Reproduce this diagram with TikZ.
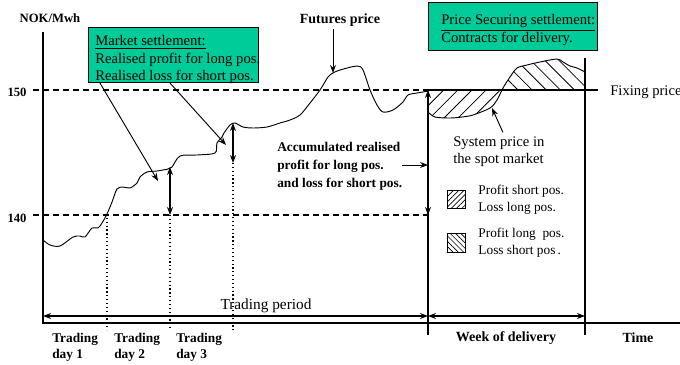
\documentclass[tikz,border=0pt]{standalone}
\usepackage{fontspec}
\setmainfont{Liberation Serif}
\usetikzlibrary{arrows.meta,patterns.meta,positioning}
\definecolor{settlegreen}{RGB}{0,204,153}
\tikzset{
  tip/.style={-{Stealth[length=6pt,width=4.5pt]}, line width=0.7pt},
  dbltip/.style={{Stealth[length=6pt,width=4.5pt]}-{Stealth[length=6pt,width=4.5pt]}, line width=0.9pt},
  level/.style={dashed, dash pattern=on 4.5pt off 3pt, line width=1.1pt},
  dayline/.style={dotted, line width=0.9pt},
  frame/.style={line width=1.1pt},
  settlebox/.style={draw, line width=0.8pt, fill=settlegreen, inner sep=0pt, anchor=north west},
  txt/.style={font=\fontsize{11}{13}\selectfont, align=left, inner sep=0pt},
  btxt/.style={font=\bfseries\fontsize{10}{12}\selectfont, align=left, inner sep=0pt},
  legbox/.style={draw, line width=0.6pt, minimum size=14pt, inner sep=0pt},
  legtxt/.style={font=\fontsize{10}{12.75}\selectfont, align=left, inner sep=0pt},
}

\begin{document}
\begin{tikzpicture}[x=0.75pt, y=-0.75pt]
\useasboundingbox (0,0) rectangle (680,364);

\coordinate (fut) at (333,73);
\coordinate (mk1) at (158,181);
\coordinate (mk2) at (226,145);
\coordinate (d2top) at (170,167);
\coordinate (d2bot) at (170,215);
\coordinate (d3top) at (233,123);
\coordinate (d3bot) at (233,163);
\coordinate (acctop) at (428,90);
\coordinate (accbot) at (428,215);
\coordinate (accstart) at (402,165);
\coordinate (accend) at (428,165);
\coordinate (spot) at (492,108);
\coordinate (tpL) at (43,316);
\coordinate (tpR) at (428,316);
\coordinate (wkR) at (585,316);

\draw[frame] (43,32) -- (43,323) -- (680,323);
\draw[level] (33,90) -- (acctop);
\draw[line width=0.8pt] (acctop) -- (598,90);
\draw[level] (33,215) -- (accbot);
\draw[frame] (acctop) -- (428,335);
\draw[frame] (585,58) -- (585,335);

\draw[dayline] (107,214) -- (107,330);
\draw[dayline] (d2bot) -- (170,330);
\draw[dayline] (d3bot) -- (233,330);

\begin{scope}
\clip (428,90) rectangle (585,130);
\fill[pattern={Lines[angle=45,distance=7.5pt,line width=0.6pt]}] (428,90) -- plot[smooth, tension=0.5] coordinates {(428,112) (435,117) (450,118) (462,117) (473,115) (490,108) (497,100) (503,88) (510,77) (517,68) (527,65) (540,62) (557,59) (563,62) (570,66) (577,68) (585,72)} -- (585,90) -- cycle;
\end{scope}
\begin{scope}
\clip (428,50) rectangle (585,90);
\fill[pattern={Lines[angle=-45,distance=7.5pt,line width=0.6pt]}] (428,90) -- plot[smooth, tension=0.5] coordinates {(428,112) (435,117) (450,118) (462,117) (473,115) (490,108) (497,100) (503,88) (510,77) (517,68) (527,65) (540,62) (557,59) (563,62) (570,66) (577,68) (585,72)} -- (585,90) -- cycle;
\end{scope}
\draw[line width=0.7pt] plot[smooth, tension=0.5] coordinates {(428,112) (435,117) (450,118) (462,117) (473,115) (490,108) (497,100) (503,88) (510,77) (517,68) (527,65) (540,62) (557,59) (563,62) (570,66) (577,68) (585,72)};

\draw[line width=0.7pt] plot[smooth, tension=0.5] coordinates {(43,240) (50,245) (60,246) (73,237) (80,236) (85,237) (92,228) (98,228) (102,223) (107,214) (112,202) (117,189) (123,187) (130,188) (137,183) (140,177) (147,172) (157,171) (168,169) (172,167) (180,156) (197,155) (215,153) (217,143) (222,137) (224,133) (230,125) (235,123) (243,127) (253,128) (267,127) (280,123) (290,120) (300,115) (310,103) (320,90) (328,77) (333,73) (340,70) (357,66) (363,70) (370,90) (377,105) (383,112) (393,110) (403,102) (408,95) (417,93) (423,92) (428,91)};

\draw[dbltip] (d2top) -- (d2bot);
\draw[dbltip] (d3top) -- (d3bot);
\draw[dbltip] (acctop) -- (accbot);
\draw[tip] (accstart) -- (accend);
\draw[dbltip] (tpL) -- (tpR);
\draw[dbltip] (tpR) -- (wkR);

\node[settlebox, minimum width=127.5pt, minimum height=41.25pt] (mkt) at (88,27) {};
\node[txt, anchor=west] (mkttxt) at (95,59.5) {\underline{Market settlement:}\\Realised profit for long pos.\\Realised loss for short pos.};
\draw[tip] ([xshift=9pt]mkt.south west) -- (mk1);
\draw[tip] ([xshift=61.5pt]mkt.south west) -- (mk2);

\node[settlebox, minimum width=126.75pt, minimum height=36pt] (price) at (428,2) {};
\node[txt, anchor=west, font=\fontsize{11}{12}\selectfont] (pricetxt) at (441,30) {\underline{Price Securing settlement:}\\Contracts for delivery.};

\node[btxt, font=\bfseries\fontsize{9.5}{11}\selectfont] (unit) at (50,18) {NOK/Mwh};
\node[btxt, font=\bfseries\fontsize{9.5}{11}\selectfont] (l150) at (17,92) {150};
\node[btxt, font=\bfseries\fontsize{9.5}{11}\selectfont] (l140) at (17,218) {140};

\node[btxt, font=\bfseries\fontsize{10.5}{12}\selectfont] (futlbl) at (340,20) {Futures price};
\draw[tip] ([yshift=-2pt]futlbl.south -| fut) -- (fut);

\node[txt, anchor=west] (fixlbl) at (610,92) {Fixing price};

\node[btxt, anchor=west, font=\bfseries\fontsize{10}{13.5}\selectfont] (acclbl) at (277,166.5) {Accumulated realised\\profit for long pos.\\and loss for short pos.};

\node[txt, anchor=west, font=\fontsize{11}{12.75}\selectfont] (sys) at (453,151.5) {System price in\\the spot market};
\draw[tip] ([xshift=3pt,yshift=3pt]sys.north) -- (spot);

\node[legbox, pattern={Lines[angle=45,distance=2.8pt,line width=0.5pt]}] (leg1) at (456.5,199.5) {};
\node[legtxt, right=9pt of leg1] (leg1txt) {Profit short pos.\\Loss long pos.};
\node[legbox, pattern={Lines[angle=-45,distance=2.8pt,line width=0.5pt]}] (leg2) at (456.5,243) {};
\node[legtxt, right=9pt of leg2] (leg2txt) {Profit long\ \ pos.\\Loss short pos\,.};

\node[txt, font=\fontsize{11.5}{13}\selectfont] (tplbl) at (266,306) {Trading period};
\node[btxt, anchor=west] (day1) at (52,347) {Trading\\day 1};
\node[btxt, anchor=west] (day2) at (114,347) {Trading\\day 2};
\node[btxt, anchor=west] (day3) at (176,347) {Trading\\day 3};
\node[btxt, font=\bfseries\fontsize{10.5}{12}\selectfont] (week) at (506,338) {Week of delivery};
\node[btxt, font=\bfseries\fontsize{10.5}{12}\selectfont] (time) at (638,338) {Time};
\end{tikzpicture}
\end{document}
